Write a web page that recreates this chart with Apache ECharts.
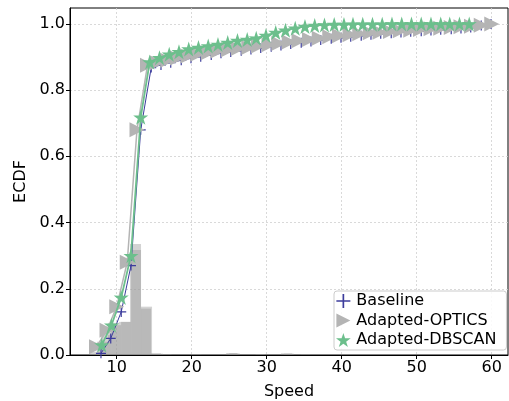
<!DOCTYPE html>
<html>
<head>
<meta charset="utf-8">
<script src="https://cdn.jsdelivr.net/npm/echarts@6/dist/echarts.min.js"></script>
<style>
  html, body { margin: 0; padding: 0; background: #fff; }
  #chart { width: 509px; height: 401px; }
</style>
</head>
<body>
<div id="chart"></div>
<script>
// ECDF sample points (speed, cumulative fraction) for each method
const baselineSpeed = [7.9, 9.2, 10.6, 11.9, 13.2, 14.6, 15.9, 17.2, 18.6, 19.9, 21.2, 22.6, 23.9, 25.2, 26.6, 27.9, 29.2, 30.6, 31.9, 33.2, 34.6, 35.9, 37.2, 38.6, 39.9, 41.2, 42.6, 43.9, 45.2, 46.6, 47.9, 49.2, 50.6, 51.9, 53.2, 54.6, 55.9, 57.2, 58.6, 59.9];
const baselineEcdf  = [0.005, 0.05, 0.13, 0.27, 0.68, 0.868, 0.876, 0.883, 0.89, 0.896, 0.901, 0.906, 0.911, 0.915, 0.919, 0.923, 0.927, 0.931, 0.935, 0.939, 0.943, 0.947, 0.951, 0.955, 0.958, 0.961, 0.964, 0.967, 0.970, 0.972, 0.974, 0.976, 0.978, 0.980, 0.982, 0.984, 0.986, 0.989, 0.995, 1.0];

const opticsSpeed = [7.3, 8.7, 10.0, 11.4, 12.7, 14.1, 15.4, 16.8, 18.1, 19.5, 20.8, 22.2, 23.5, 24.9, 26.2, 27.6, 28.9, 30.3, 31.6, 33.0, 34.3, 35.7, 37.0, 38.4, 39.7, 41.1, 42.4, 43.8, 45.1, 46.5, 47.8, 49.2, 50.5, 51.9, 53.2, 54.6, 55.9, 57.3, 58.6, 60.0];
const opticsEcdf  = [0.025, 0.075, 0.146, 0.28, 0.68, 0.875, 0.883, 0.89, 0.897, 0.903, 0.908, 0.913, 0.918, 0.922, 0.926, 0.929, 0.933, 0.937, 0.941, 0.945, 0.949, 0.953, 0.957, 0.961, 0.964, 0.967, 0.970, 0.973, 0.975, 0.977, 0.979, 0.981, 0.983, 0.985, 0.987, 0.989, 0.991, 0.993, 0.996, 1.0];

const dbscanSpeed = [8.0, 9.3, 10.6, 11.9, 13.2, 14.4, 15.7, 17.0, 18.3, 19.6, 20.9, 22.2, 23.5, 24.8, 26.1, 27.4, 28.6, 29.9, 31.2, 32.5, 33.8, 35.1, 36.4, 37.7, 39.0, 40.3, 41.5, 42.8, 44.1, 45.4, 46.7, 48.0, 49.3, 50.6, 51.9, 53.2, 54.4, 55.7, 57.0];
const dbscanEcdf  = [0.03, 0.09, 0.174, 0.30, 0.718, 0.885, 0.898, 0.908, 0.916, 0.924, 0.929, 0.933, 0.938, 0.944, 0.950, 0.953, 0.957, 0.965, 0.974, 0.981, 0.987, 0.992, 0.995, 0.997, 0.998, 0.998, 0.999, 0.999, 0.999, 0.999, 1.0, 1.0, 1.0, 1.0, 1.0, 1.0, 1.0, 1.0, 1.0];

// Speed density histograms: [bin start, bin end, density]
const histA = [[7.36, 8.83, 0.04], [8.83, 10.30, 0.097], [10.30, 11.77, 0.10], [11.77, 13.24, 0.335], [13.24, 14.71, 0.146], [14.71, 16.18, 0.004], [24.6, 26.1, 0.006], [31.9, 33.4, 0.005]];
const histB = [[6.44, 7.92, 0.01], [7.92, 9.25, 0.06], [9.25, 10.58, 0.09], [10.58, 11.91, 0.10], [11.91, 13.24, 0.317], [13.24, 14.57, 0.14], [14.57, 15.9, 0.005], [16.0, 17.3, 0.003], [20.0, 21.3, 0.002], [25.0, 26.4, 0.005], [28.5, 29.8, 0.003], [32.3, 33.6, 0.004], [34.5, 35.8, 0.002]];

const xTicks = [10, 20, 30, 40, 50, 60];
const yTicks = [0, 0.2, 0.4, 0.6, 0.8, 1.0];

const names = ['Baseline', 'Adapted-OPTICS', 'Adapted-DBSCAN'];

const COLOR_BASE = '#3c3c9c';
const COLOR_OPTICS = '#b4b4b4';
const COLOR_DBSCAN = '#6cbf8c';

const PLUS = 'path://M0,4.4H10V5.6H0Z M4.4,0H5.6V10H4.4Z';
const TRI_RIGHT = 'path://M0,0L10,5L0,10Z';
const STAR = 'path://M10,0L12.23,6.93L19.51,6.91L13.61,11.17L15.88,18.09L10,13.8L4.12,18.09L6.39,11.17L0.49,6.91L7.77,6.93Z';

const FONT = 'DejaVu Sans';

function pairs(xs, ys) { return xs.map((x, i) => [x, ys[i]]); }

function histSeries(data) {
  return {
    type: 'custom',
    silent: true,
    z: 1,
    encode: { x: [0, 1], y: 2 },
    data: data,
    renderItem: function (params, api) {
      const topLeft = api.coord([api.value(0), api.value(2)]);
      const bottomRight = api.coord([api.value(1), 0]);
      return {
        type: 'rect',
        shape: { x: topLeft[0], y: topLeft[1], width: bottomRight[0] - topLeft[0], height: bottomRight[1] - topLeft[1] },
        style: { fill: 'rgba(150,150,150,0.42)' }
      };
    }
  };
}

const chart = echarts.init(document.getElementById('chart'), null, { renderer: 'canvas' });

const gridLine = { show: true, lineStyle: { color: '#d0d0d0', width: 0.8, type: [2, 2] } };

chart.setOption({
  animation: false,
  backgroundColor: '#ffffff',
  grid: {
    left: 70, top: 8, width: 438, height: 347,
    outerBoundsMode: 'none', containLabel: false,
    show: true, borderColor: '#000', borderWidth: 1, backgroundColor: 'transparent'
  },
  xAxis: {
    type: 'value', min: 3.77, max: 62.17,
    name: 'Speed', nameLocation: 'middle', nameGap: 29,
    nameTextStyle: { fontFamily: FONT, fontSize: 16, color: '#000' },
    axisLine: { show: true, lineStyle: { color: '#000', width: 1 } },
    axisTick: { show: true, inside: false, length: 4, lineStyle: { color: '#000' }, customValues: xTicks },
    axisLabel: { fontFamily: FONT, fontSize: 16, color: '#000', margin: 5, customValues: xTicks, formatter: v => String(v) },
    splitLine: gridLine
  },
  yAxis: {
    type: 'value', min: 0, max: 1.048,
    name: 'ECDF', nameLocation: 'middle', nameGap: 38, nameRotate: 90,
    nameTextStyle: { fontFamily: FONT, fontSize: 16, color: '#000' },
    axisLine: { show: true, lineStyle: { color: '#000', width: 1 } },
    axisTick: { show: true, inside: false, length: 4, lineStyle: { color: '#000' }, customValues: yTicks },
    axisLabel: { fontFamily: FONT, fontSize: 16, color: '#000', margin: 5, customValues: yTicks, formatter: v => v.toFixed(1) },
    splitLine: gridLine
  },
  legend: {
    orient: 'vertical', left: 334, top: 291,
    padding: [2, 10, 2, 2], itemGap: 3.5, itemWidth: 16, itemHeight: 14,
    backgroundColor: 'rgba(255,255,255,0.85)', borderColor: '#cccccc', borderWidth: 1, borderRadius: 3,
    textStyle: { fontFamily: FONT, fontSize: 16, color: '#000', lineHeight: 16 },
    data: [
      { name: names[0], icon: PLUS, itemStyle: { color: COLOR_BASE } },
      { name: names[1], icon: TRI_RIGHT, itemStyle: { color: COLOR_OPTICS } },
      { name: names[2], icon: STAR, itemStyle: { color: COLOR_DBSCAN } }
    ]
  },
  series: [
    histSeries(histA),
    histSeries(histB),
    {
      name: names[0], type: 'line', z: 3, data: pairs(baselineSpeed, baselineEcdf),
      symbol: PLUS, symbolSize: 10, showSymbol: true,
      lineStyle: { color: COLOR_BASE, width: 1 }, itemStyle: { color: COLOR_BASE }
    },
    {
      name: names[1], type: 'line', z: 4, data: pairs(opticsSpeed, opticsEcdf),
      symbol: TRI_RIGHT, symbolSize: [15, 15], showSymbol: true,
      lineStyle: { color: COLOR_OPTICS, width: 1.5 }, itemStyle: { color: COLOR_OPTICS }
    },
    {
      name: names[2], type: 'line', z: 5, data: pairs(dbscanSpeed, dbscanEcdf),
      symbol: STAR, symbolSize: 15, showSymbol: true,
      lineStyle: { color: COLOR_DBSCAN, width: 1.8 }, itemStyle: { color: COLOR_DBSCAN }
    }
  ]
});
</script>
</body>
</html>
